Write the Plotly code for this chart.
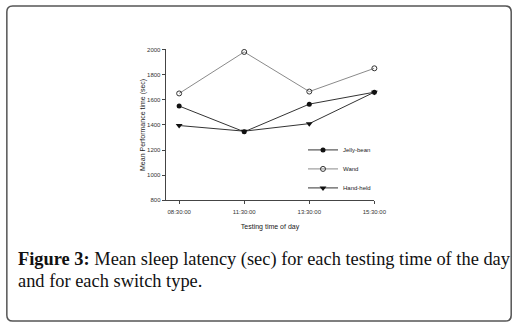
import plotly.graph_objects as go

W, H = 532, 329

categories = ["08:30:00", "11:30:00", "13:30:00", "15:30:00"]
jelly_bean = [1550, 1345, 1565, 1660]
wand = [1650, 1980, 1665, 1850]
hand_held = [1395, 1350, 1410, 1660]
y_ticks = [800, 1000, 1200, 1400, 1600, 1800, 2000]

caption_line1 = "<b>Figure 3:</b> Mean sleep latency (sec) for each testing time of the day"
caption_line2 = "and for each switch type."

fig = go.Figure()
fig.add_trace(go.Scatter(
    x=categories, y=jelly_bean, name="Jelly-bean", mode="lines+markers",
    line=dict(color="#333333", width=1),
    marker=dict(symbol="circle", size=5, color="#111111"),
    cliponaxis=False))
fig.add_trace(go.Scatter(
    x=categories, y=wand, name="Wand", mode="lines+markers",
    line=dict(color="#8a8a8a", width=1),
    marker=dict(symbol="circle-open", size=5, color="#333333", line=dict(width=1)),
    cliponaxis=False))
fig.add_trace(go.Scatter(
    x=categories, y=hand_held, name="Hand-held", mode="lines+markers",
    line=dict(color="#333333", width=1),
    marker=dict(symbol="triangle-down", size=6, color="#111111"),
    cliponaxis=False))

axis_font = dict(family="Liberation Sans, Arial, sans-serif", size=6, color="#333333")
title_font = dict(family="Liberation Sans, Arial, sans-serif", size=7, color="#222222")
cap_font = dict(family="Liberation Serif, Times New Roman, serif", size=18.4, color="#111111")

fig.update_layout(
    width=W, height=H,
    margin=dict(l=0, r=0, t=0, b=0),
    paper_bgcolor="white", plot_bgcolor="white",
    showlegend=True,
    legend=dict(x=310 / W, y=1 - 169 / H, xanchor="left", yanchor="middle",
                font=dict(family="Liberation Sans, Arial, sans-serif", size=6, color="#222222"),
                bgcolor="rgba(0,0,0,0)", tracegroupgap=0),
    xaxis=dict(
        type="category", domain=[169.5 / W, 383 / W], range=[-0.207, 3.0],
        showline=True, linecolor="#444444", linewidth=1,
        ticks="outside", ticklen=3, tickcolor="#444444", tickwidth=1,
        ticklabelstandoff=2,
        showgrid=False, zeroline=False, tickfont=axis_font,
        title=dict(text="Testing time of day", font=title_font, standoff=10)),
    yaxis=dict(
        domain=[1 - 201 / H, 1 - 47.3 / H], range=[800, 2000],
        tickvals=y_ticks,
        showline=True, linecolor="#444444", linewidth=1,
        ticks="outside", ticklen=3, tickcolor="#444444", tickwidth=1,
        showgrid=False, zeroline=False, tickfont=axis_font,
        title=dict(text="Mean Performance time (sec)", font=title_font, standoff=0)),
    annotations=[
        dict(text=caption_line1, xref="paper", yref="paper", x=16 / W, y=1 - 249 / H,
             xanchor="left", yanchor="top", align="left", showarrow=False, font=cap_font),
        dict(text=caption_line2, xref="paper", yref="paper", x=16 / W, y=1 - 270.6 / H,
             xanchor="left", yanchor="top", align="left", showarrow=False, font=cap_font),
    ],
)

# rounded frame around the figure
x0, x1, y0, y1, r = 7, 523, 3, 324, 6
def px(x):
    return x / W
def py(y):
    return 1 - y / H
path = (f"M {px(x0 + r)},{py(y0)} L {px(x1 - r)},{py(y0)} Q {px(x1)},{py(y0)} {px(x1)},{py(y0 + r)} "
        f"L {px(x1)},{py(y1 - r)} Q {px(x1)},{py(y1)} {px(x1 - r)},{py(y1)} "
        f"L {px(x0 + r)},{py(y1)} Q {px(x0)},{py(y1)} {px(x0)},{py(y1 - r)} "
        f"L {px(x0)},{py(y0 + r)} Q {px(x0)},{py(y0)} {px(x0 + r)},{py(y0)} Z")
fig.add_shape(type="path", path=path, xref="paper", yref="paper",
              line=dict(color="#555555", width=1.5), fillcolor="rgba(0,0,0,0)")

fig.write_html("out.html",
               config={"displayModeBar": False},
               post_script="document.body.style.margin='0';document.body.style.overflow='hidden';")
